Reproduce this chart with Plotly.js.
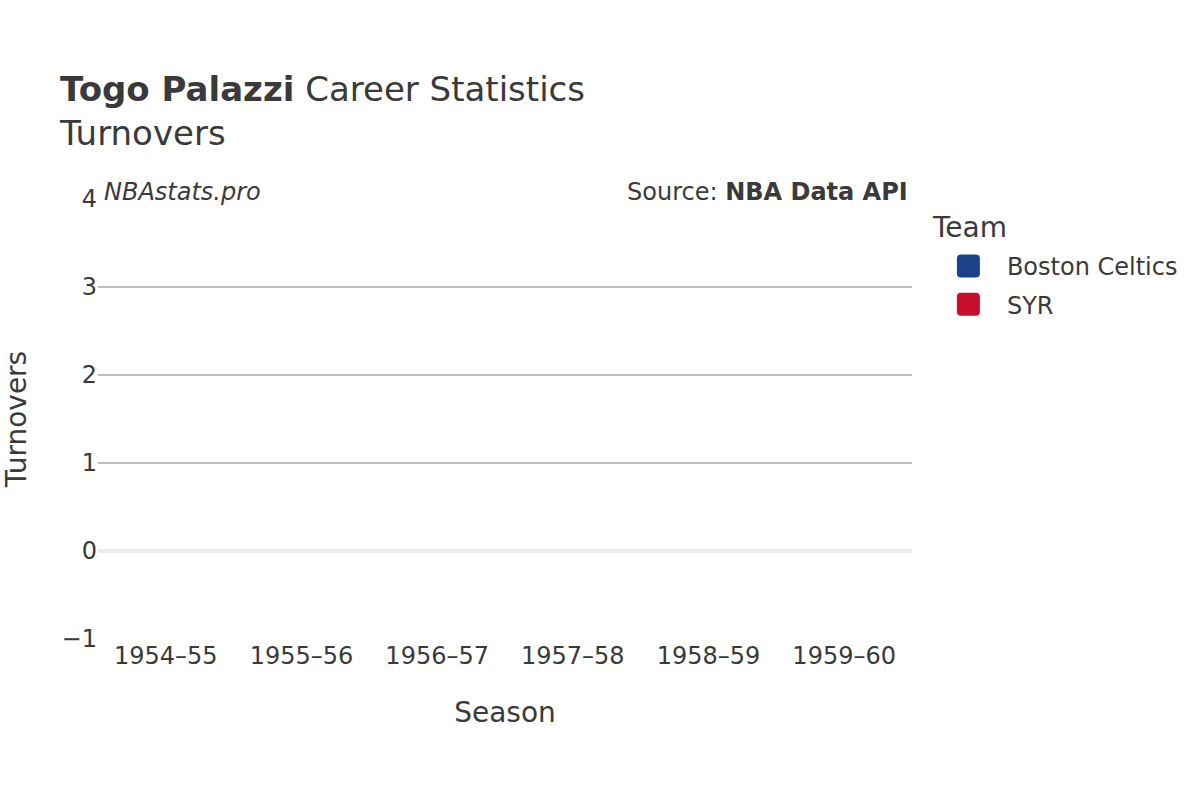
<!DOCTYPE html>
<html>
<head>
<meta charset="utf-8">
<script src="https://cdn.plot.ly/plotly-3.0.1.min.js"></script>
<style>
  html, body { margin: 0; padding: 0; background: #fff; }
  #chart { width: 1200px; height: 800px; }
</style>
</head>
<body>
<div id="chart"></div>
<script>
// Togo Palazzi – turnovers per season (not recorded in the 1950s, so no values)
const seasons = ['1954–55', '1955–56', '1956–57', '1957–58', '1958–59', '1959–60'];

const celticsSeasons   = ['1954–55', '1955–56', '1956–57'];
const celticsTurnovers = [null, null, null];

const syrSeasons   = ['1956–57', '1957–58', '1958–59', '1959–60'];
const syrTurnovers = [null, null, null, null];

const teamNames  = ['Boston Celtics', 'SYR'];
const teamColors = ['#1d428a', '#c8102e'];

const yTicks = [-1, 0, 1, 2, 3, 4];

const FONT = 'DejaVu Sans, sans-serif';
const INK  = '#3a3a3a';

const traces = [
  { x: celticsSeasons, y: celticsTurnovers },
  { x: syrSeasons,     y: syrTurnovers },
].map((d, i) => ({
  type: 'bar',
  name: teamNames[i],
  legendgroup: 'g' + i,
  x: d.x,
  y: d.y,
  marker: { color: teamColors[i], cornerradius: 4 },
}));

const layout = {
  width: 1200, height: 800,
  margin: { l: 98, r: 288, t: 199, b: 161 },
  paper_bgcolor: 'white', plot_bgcolor: 'white',
  font: { family: FONT, color: INK, size: 24 },
  title: {
    text: '<b>Togo Palazzi</b> Career Statistics<br>Turnovers',
    x: 60 / 1200, xanchor: 'left', xref: 'container',
    y: 0.8735, yanchor: 'top', yref: 'container',
    font: { size: 34, color: INK },
  },
  xaxis: {
    type: 'category',
    categoryorder: 'array', categoryarray: seasons,
    range: [-0.5, seasons.length - 0.5],
    showgrid: false, zeroline: false, showline: false,
    ticks: '', tickfont: { size: 24 },
    title: { text: 'Season', font: { size: 28 }, standoff: 33 },
  },
  yaxis: {
    range: [yTicks[0], yTicks[yTicks.length - 1]],
    tickvals: yTicks,
    ticktext: yTicks.map(v => v < 0 ? '−' + Math.abs(v) : String(v)),
    showgrid: true, gridcolor: '#bdbdbd', gridwidth: 2,
    zeroline: true, zerolinecolor: '#ececec', zerolinewidth: 4,
    showline: false, ticks: '', tickfont: { size: 24 },
    title: { text: 'Turnovers', font: { size: 28 }, standoff: 30 },
  },
  legend: {
    font: { size: 24 },
    traceorder: 'grouped', tracegroupgap: 4,
    itemwidth: 67,
    x: 1.022, xanchor: 'left', y: 0.898, yanchor: 'top',
  },
  showlegend: true,
  annotations: [
    {
      text: '<i>NBAstats.pro</i>', xref: 'paper', yref: 'paper',
      x: 0, y: 1, xanchor: 'left', yanchor: 'bottom', xshift: 4, yshift: -9,
      showarrow: false, font: { size: 24, color: INK },
    },
    {
      text: 'Source: <b>NBA Data API</b>', xref: 'paper', yref: 'paper',
      x: 1, y: 1, xanchor: 'right', yanchor: 'bottom', xshift: -2, yshift: -9,
      showarrow: false, font: { size: 24, color: INK },
    },
    {
      // legend heading
      text: 'Team', xref: 'paper', yref: 'paper',
      x: 1.022, y: 1, xanchor: 'left', yanchor: 'middle', xshift: 0, yshift: -28,
      showarrow: false, font: { size: 28, color: INK },
    },
  ],
};

// larger rounded legend swatches, as in the reference
const SWATCH = 'M-7.5,-11.5H7.5A4,4 0 0 1 11.5,-7.5V7.5A4,4 0 0 1 7.5,11.5' +
               'H-7.5A4,4 0 0 1 -11.5,7.5V-7.5A4,4 0 0 1 -7.5,-11.5Z';

Plotly.newPlot('chart', traces, layout, { displayModeBar: false, staticPlot: true })
  .then(gd => {
    gd.querySelectorAll('.legend .legendpoints path').forEach(p => p.setAttribute('d', SWATCH));
  });
</script>
</body>
</html>
